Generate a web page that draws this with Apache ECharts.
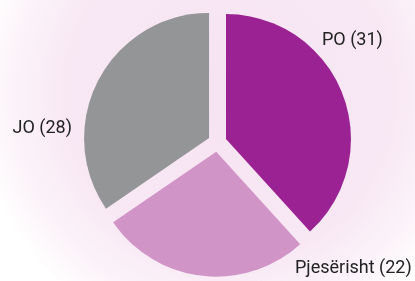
<!DOCTYPE html>
<html>
<head>
<meta charset="utf-8">
<script src="https://cdn.jsdelivr.net/npm/echarts@6/dist/echarts.min.js"></script>
<style>
html,body{margin:0;padding:0;background:#fff;}
#chart{width:415px;height:281px;}
</style>
</head>
<body>
<div id="chart"></div>
<script>
const categories = ['PO', 'Pjesërisht', 'JO'];
const values = [31, 22, 28];

const sliceColors = ['#9b2292', '#d194c7', '#949597'];
const labelSpots = [
  { x: 322, y: 40, align: 'left' },
  { x: 295, y: 268, align: 'left' },
  { x: 72, y: 128, align: 'right' }
];

const chart = echarts.init(document.getElementById('chart'), null, { renderer: 'canvas' });

const data = categories.map((c, i) => ({
  name: c,
  value: values[i],
  selected: true,
  itemStyle: { color: sliceColors[i] }
}));

const labelGraphics = categories.map((c, i) => ({
  type: 'text',
  z: 10,
  silent: true,
  x: labelSpots[i].x,
  y: labelSpots[i].y,
  style: {
    text: c + ' (' + values[i] + ')',
    fontFamily: 'Roboto',
    fontSize: 18,
    fill: '#222222',
    align: labelSpots[i].align,
    verticalAlign: 'middle'
  }
}));

chart.setOption({
  animation: false,
  backgroundColor: '#ffffff',
  graphic: [{
    type: 'rect',
    z: -10,
    silent: true,
    shape: { x: 0, y: 0, width: 415, height: 281 },
    style: {
      fill: new echarts.graphic.RadialGradient(230, 95, 255, [
        { offset: 0, color: '#f6e3f1' },
        { offset: 0.65, color: '#f8e8f4' },
        { offset: 0.88, color: '#fcf5fa' },
        { offset: 1, color: '#ffffff' }
      ], true)
    }
  }].concat(labelGraphics),
  series: [{
    type: 'pie',
    center: [217.3, 142.4],
    radius: [0, 125],
    startAngle: 90,
    clockwise: true,
    selectedMode: 'multiple',
    selectedOffset: 9.3,
    emphasis: { disabled: true },
    label: { show: false },
    labelLine: { show: false },
    data: data
  }]
});
</script>
</body>
</html>
